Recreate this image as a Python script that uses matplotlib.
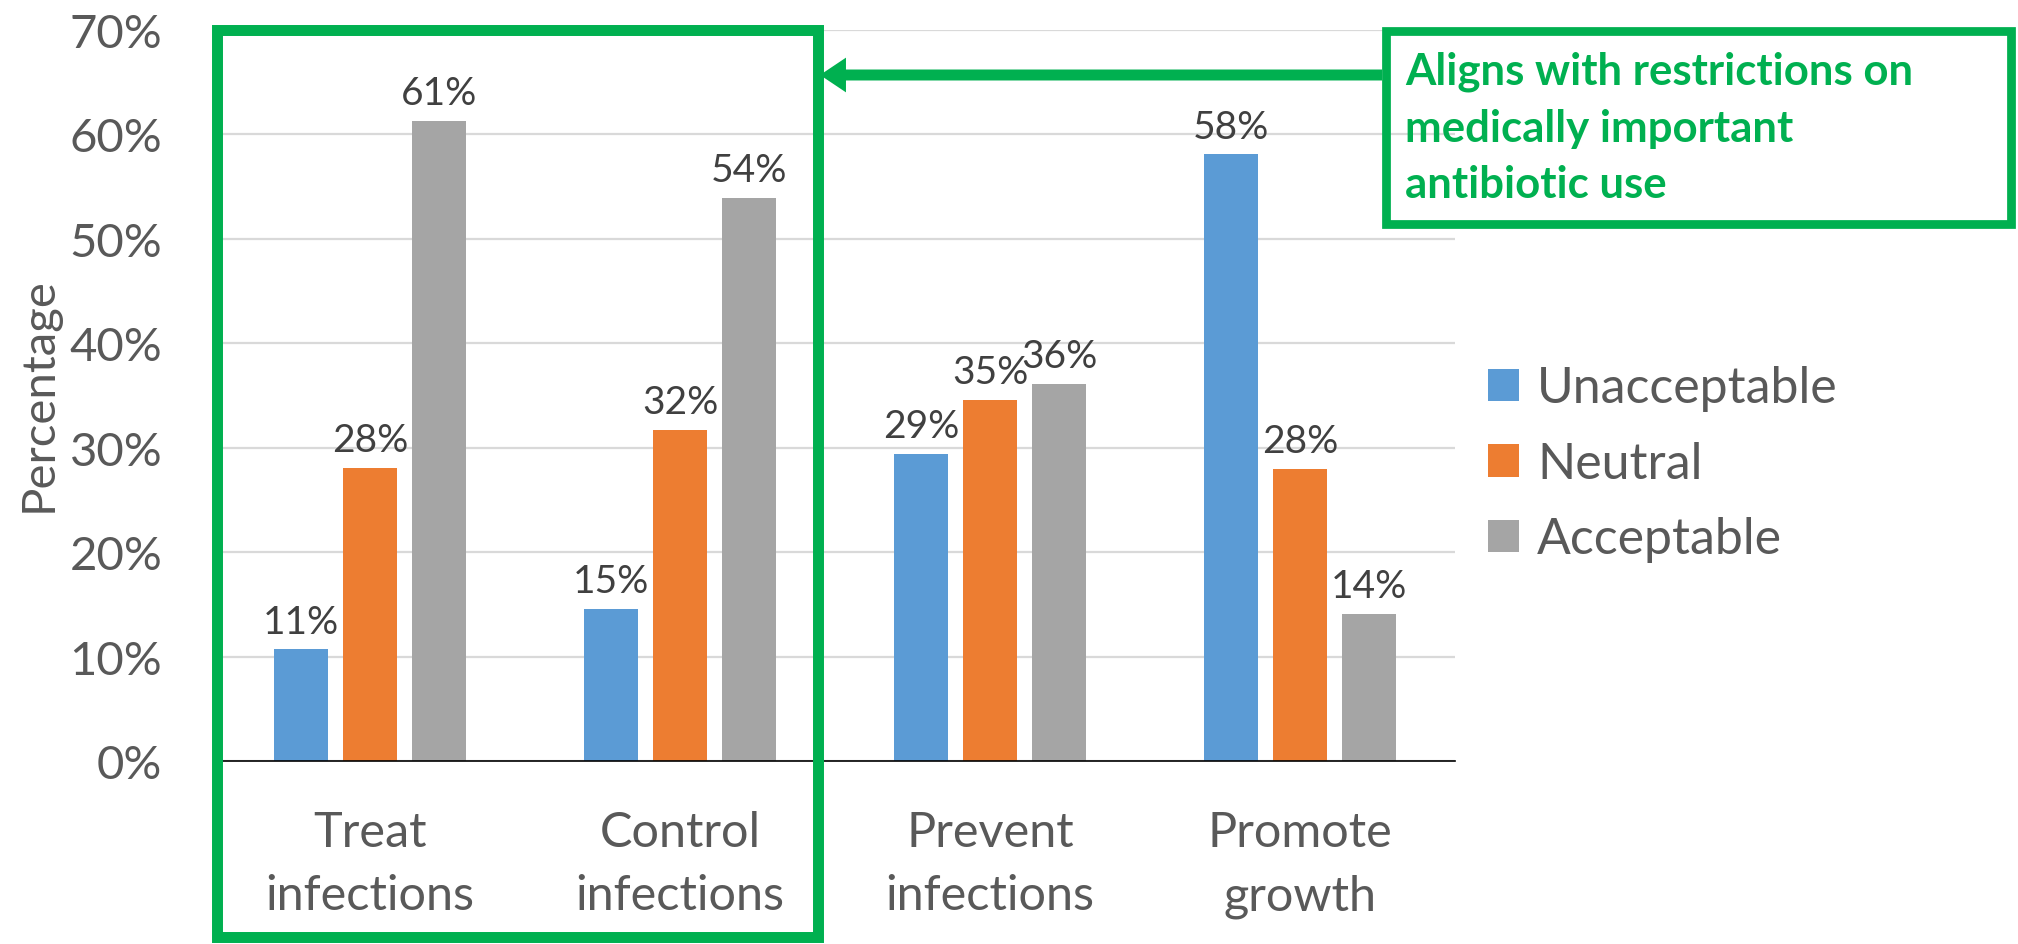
import matplotlib
matplotlib.use("Agg")
import matplotlib.pyplot as plt
import numpy as np
from matplotlib.patches import Rectangle, FancyArrowPatch
from matplotlib.transforms import blended_transform_factory

# Data (percent)
categories = ["Treat\ninfections", "Control\ninfections", "Prevent\ninfections", "Promote\ngrowth"]
series_names = ["Unacceptable", "Neutral", "Acceptable"]
unacceptable = [10.7, 14.6, 29.4, 58.1]
neutral = [28.1, 31.7, 34.6, 28.0]
acceptable = [61.3, 53.9, 36.1, 14.1]
y_ticks = [0, 10, 20, 30, 40, 50, 60, 70]
note_text = "Aligns with restrictions on\nmedically important\nantibiotic use"

colors = ["#5B9BD5", "#ED7D31", "#A5A5A5"]
green = "#00B050"
text_grey = "#595959"

plt.rcParams["font.family"] = ["Lato", "DejaVu Sans"]

W, H = 2018, 945
fig = plt.figure(figsize=(W / 100, H / 100), dpi=100)
ax = fig.add_axes([215 / W, (H - 762) / H, 1240 / W, 731 / H])

x = np.arange(len(categories))
step = 0.2226
width = 0.174
for i, (name, vals) in enumerate(zip(series_names, [unacceptable, neutral, acceptable])):
    bars = ax.bar(x + (i - 1) * step, vals, width, color=colors[i], label=name, zorder=3)
    ax.bar_label(bars, labels=[f"{round(v)}%" for v in vals], padding=7,
                 fontsize=28, color="#404040")

ax.set_xlim(-0.5, 3.5)
ax.set_ylim(0, 70)
ax.set_yticks(y_ticks)
ax.set_yticklabels([f"{t}%" for t in y_ticks])
ax.set_xticks(x)
ax.set_xticklabels(categories, linespacing=1.55)
ax.tick_params(axis="y", length=0, pad=38, labelsize=34, labelcolor=text_grey)
ax.tick_params(axis="x", length=0, pad=35, labelsize=35, labelcolor=text_grey)
ax.grid(axis="y", color="#D9D9D9", linewidth=1.6, zorder=0)
for s in ["top", "right", "left"]:
    ax.spines[s].set_visible(False)
ax.spines["bottom"].set_color("black")
ax.spines["bottom"].set_linewidth(1.2)
ax.spines["bottom"].set_zorder(4)

ax.set_ylabel("Percentage", fontsize=34, color=text_grey)
ax.yaxis.set_label_coords(-0.125, 0.502)

ax.legend(loc="center left", bbox_to_anchor=(1488 / W, 1 - 465 / H),
          bbox_transform=fig.transFigure, frameon=False, fontsize=36,
          handlelength=0.62, handleheight=0.62, handletextpad=0.36,
          labelspacing=0.59, borderpad=0, borderaxespad=0, labelcolor=text_grey)

# green box around the first two categories
trans = blended_transform_factory(ax.transData, ax.transAxes)
box = Rectangle((-0.495, -0.241), 1.445 + 0.495, 1.241, transform=trans,
                fill=False, edgecolor=green, linewidth=7.9, clip_on=False, zorder=5)
ax.add_patch(box)

# note box and arrow (figure pixels, top origin)
def fx(px):
    return px / W

def fy(py):
    return 1 - py / H

fig.patches.append(Rectangle((fx(1386), fy(225)), fx(2011) - fx(1386), fy(32) - fy(225),
                             transform=fig.transFigure, fill=False, edgecolor=green,
                             linewidth=6.3))
arrow = FancyArrowPatch((fx(1382), fy(76)), (fx(820), fy(76)), transform=fig.transFigure,
                        arrowstyle="simple,head_length=18.7,head_width=25,tail_width=7.9",
                        mutation_scale=1, color=green, lw=0, shrinkA=0, shrinkB=0)
fig.patches.append(arrow)
fig.text(fx(1405), fy(52), note_text, fontsize=31.5, fontweight="bold", color=green,
         va="top", ha="left", linespacing=1.5)

fig.savefig("out.png", dpi=100)
